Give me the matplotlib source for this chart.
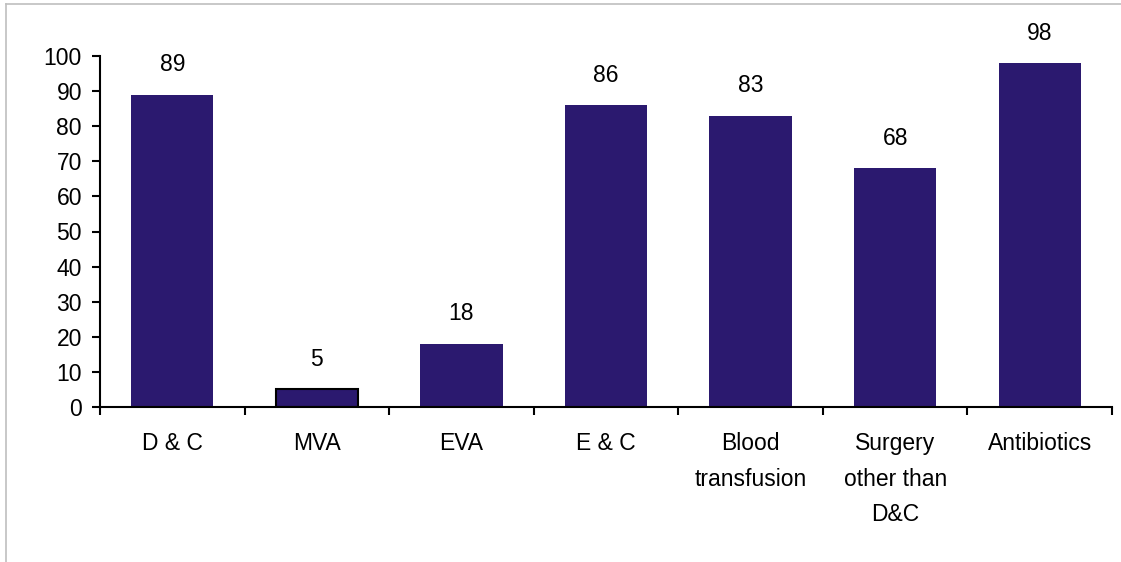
import matplotlib
matplotlib.use("Agg")
import matplotlib.pyplot as plt
from matplotlib.lines import Line2D

categories = ["D & C", "MVA", "EVA", "E & C", "Blood\ntransfusion",
              "Surgery\nother than\nD&C", "Antibiotics"]
values = [89, 5, 18, 86, 83, 68, 98]
yticks = [0, 10, 20, 30, 40, 50, 60, 70, 80, 90, 100]

bar_color = "#2B196F"
fs = 16.5

plt.rcParams["font.family"] = ["Liberation Sans", "DejaVu Sans"]

fig = plt.figure(figsize=(11.21, 5.62), dpi=100)
ax = fig.add_axes([100 / 1121, 1 - 407 / 562, (1112 - 100) / 1121, (407 - 56) / 562])

x = list(range(len(categories)))
bars = ax.bar(x, values, width=0.57, color=bar_color, zorder=2)
# thin bar gets a dark outline so it stays visible
for b, v in zip(bars, values):
    if v < 10:
        b.set_edgecolor("black")
        b.set_linewidth(1.5)

for xi, v in zip(x, values):
    ax.annotate(str(v), (xi, v), xytext=(0, 21.5), textcoords="offset points",
                ha="center", va="center", fontsize=fs, color="black")

ax.set_xlim(-0.5, len(categories) - 0.5)
ax.set_ylim(0, 100)
ax.set_yticks(yticks)
ax.set_yticklabels([str(t) for t in yticks], fontsize=fs)

# category labels centred between boundary ticks
ax.set_xticks([i - 0.5 for i in range(len(categories) + 1)])
ax.set_xticklabels([])
ax.set_xticks(x, minor=True)
ax.set_xticklabels(categories, minor=True, fontsize=fs, linespacing=1.7, va="top")
ax.tick_params(axis="x", which="minor", length=0, pad=18)
ax.tick_params(axis="x", which="major", length=6, width=1.5, direction="out")
ax.tick_params(axis="y", length=6, width=1.5, direction="out", pad=7)

for side in ("top", "right"):
    ax.spines[side].set_visible(False)
for side in ("left", "bottom"):
    ax.spines[side].set_linewidth(1.5)
    ax.spines[side].set_color("black")

# light frame around the chart area
fig.add_artist(Line2D([6 / 1121, 6 / 1121], [0, 1 - 4 / 562], transform=fig.transFigure,
                      color="#BFBFBF", linewidth=1.2))
fig.add_artist(Line2D([6 / 1121, 1], [1 - 4 / 562, 1 - 4 / 562], transform=fig.transFigure,
                      color="#BFBFBF", linewidth=1.2))

fig.savefig("out.png", dpi=100)
